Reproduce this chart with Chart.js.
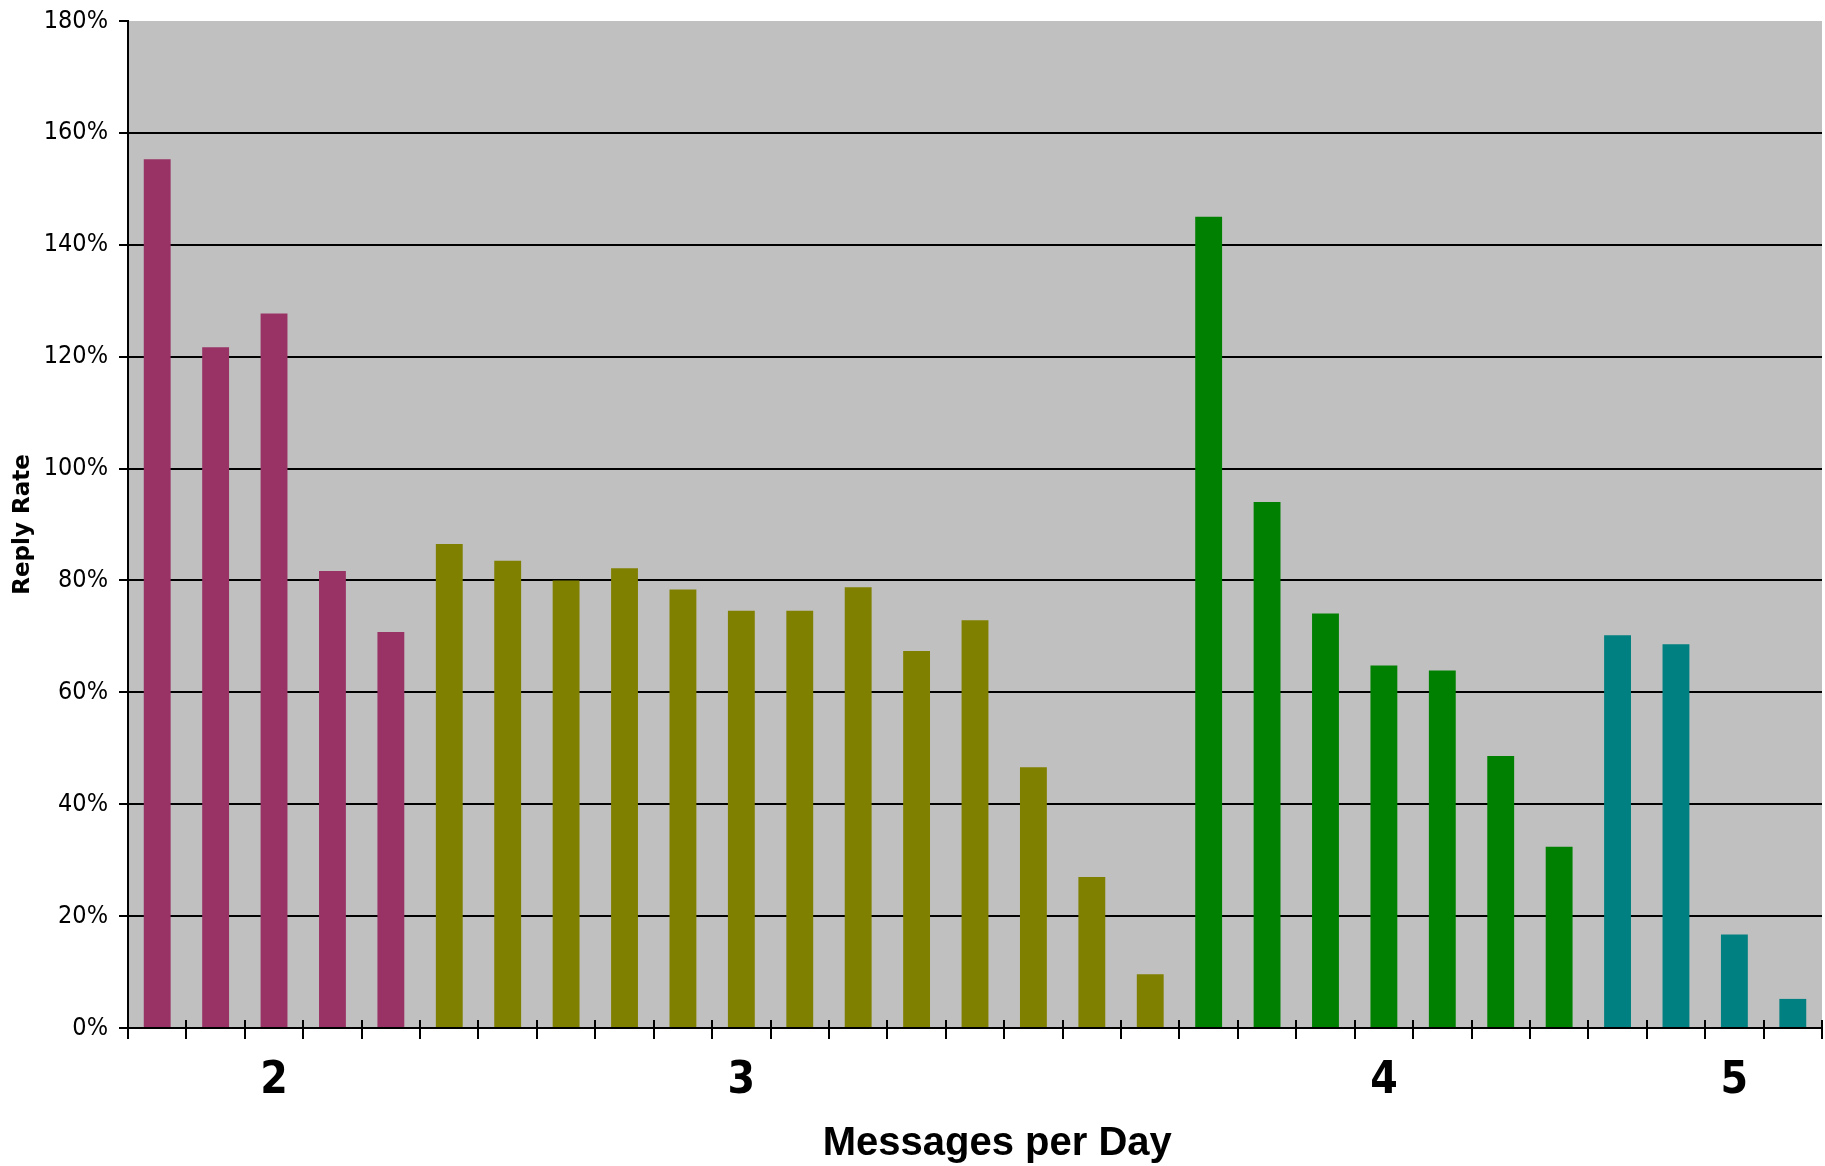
<!DOCTYPE html>
<html>
<head>
<meta charset="utf-8">
<title>Reply Rate by Messages per Day</title>
<script src="https://cdn.jsdelivr.net/npm/chart.js@4/dist/chart.umd.min.js"></script>
<style>
  html, body { margin: 0; padding: 0; background: #ffffff; }
  #wrap { width: 1825px; height: 1166px; position: relative; }
</style>
</head>
<body>
<div id="wrap"><canvas id="chart"></canvas></div>
<script>
// Category slots along the x axis; only some carry a visible label
const categories = ['', '', '2', '', '', '', '', '', '', '', '3', '', '', '', '',
                    '', '', '', '', '', '', '4', '', '', '', '', '', '5', ''];

// Reply rate (%) for each band of bars, left to right
const bandOne   = [155.3, 121.7, 127.7, 81.7, 70.8];
const bandTwo   = [86.5, 83.5, 80.0, 82.2, 78.4, 74.6, 74.6, 78.8, 67.4, 72.9, 46.6, 27.0, 9.6];
const bandThree = [145.0, 94.0, 74.1, 64.8, 63.9, 48.6, 32.4];
const bandFour  = [70.2, 68.6, 16.7, 5.2];

// Y axis range and step (%)
const yMin = 0;
const yMax = 180;
const yStep = 20;

const bands = [
  { values: bandOne,   color: '#993366' },
  { values: bandTwo,   color: '#808000' },
  { values: bandThree, color: '#008000' },
  { values: bandFour,  color: '#008080' }
];

// Place each band's values into its run of category slots
let start = 0;
const datasets = bands.map(b => {
  const data = categories.map(() => null);
  b.values.forEach((v, i) => { data[start + i] = v; });
  start += b.values.length;
  return {
    data,
    backgroundColor: b.color,
    borderWidth: 0,
    grouped: false,
    barPercentage: 0.46,
    categoryPercentage: 1.0
  };
});

const narrow = "'DejaVu Sans Condensed', 'Liberation Sans', sans-serif";

// Grey plot background
const plotBackground = {
  id: 'plotBackground',
  beforeDraw(chart) {
    const { ctx, chartArea: a } = chart;
    ctx.save();
    ctx.fillStyle = '#c0c0c0';
    ctx.fillRect(a.left, a.top, a.right - a.left, a.bottom - a.top);
    ctx.restore();
  }
};

// Short upward continuation of the x tick marks, so they cross the axis line
const crossTicks = {
  id: 'crossTicks',
  afterDatasetsDraw(chart) {
    const { ctx } = chart;
    const x = chart.scales.x;
    ctx.save();
    ctx.strokeStyle = '#000000';
    ctx.lineWidth = 2;
    for (let i = 0; i <= categories.length; i++) {
      const px = Math.round(x.getPixelForValue(i - 0.5));
      ctx.beginPath();
      ctx.moveTo(px, x.top - 8);
      ctx.lineTo(px, x.top);
      ctx.stroke();
    }
    ctx.restore();
  }
};

new Chart(document.getElementById('chart'), {
  type: 'bar',
  data: { labels: categories, datasets },
  plugins: [plotBackground, crossTicks],
  options: {
    responsive: true,
    maintainAspectRatio: false,
    animation: false,
    layout: { padding: { top: 21, right: 3, left: 0, bottom: 0 } },
    plugins: {
      legend: { display: false },
      tooltip: { enabled: false }
    },
    scales: {
      x: {
        offset: true,
        grid: {
          display: true,
          offset: true,
          drawOnChartArea: false,
          drawTicks: true,
          tickLength: 11,
          color: '#000000',
          lineWidth: 2
        },
        border: { display: true, color: '#000000', width: 2 },
        ticks: {
          autoSkip: false,
          maxRotation: 0,
          minRotation: 0,
          padding: 16,
          color: '#000000',
          font: { family: narrow, size: 44, weight: 'bold' }
        },
        title: {
          display: true,
          text: '    Messages per Day',
          color: '#000000',
          font: { family: "'Liberation Sans', Arial, sans-serif", size: 40, weight: 'bold' },
          padding: { top: 0, bottom: -2 }
        },
        afterFit(scale) {
          scale.height = 138;
          scale.paddingLeft = 0;
          scale.paddingRight = 0;
        }
      },
      y: {
        min: yMin,
        max: yMax,
        grid: {
          color: ctx => (ctx.tick && ctx.tick.value === yMax) ? 'rgba(0,0,0,0)' : '#000000',
          tickColor: '#000000',
          lineWidth: 2,
          tickLength: 9,
          drawTicks: true
        },
        border: { display: true, color: '#000000', width: 2 },
        ticks: {
          stepSize: yStep,
          padding: 11,
          color: '#000000',
          font: { family: narrow, size: 25 },
          callback: v => v + '%'
        },
        title: {
          display: true,
          text: 'Reply Rate',
          color: '#000000',
          font: { family: "'DejaVu Sans', sans-serif", size: 23, weight: 'bold' },
          padding: { top: 9, bottom: 0 }
        },
        afterFit(scale) {
          scale.width = 128;
          scale.paddingTop = 0;
          scale.paddingBottom = 0;
        }
      }
    }
  }
});
</script>
</body>
</html>
